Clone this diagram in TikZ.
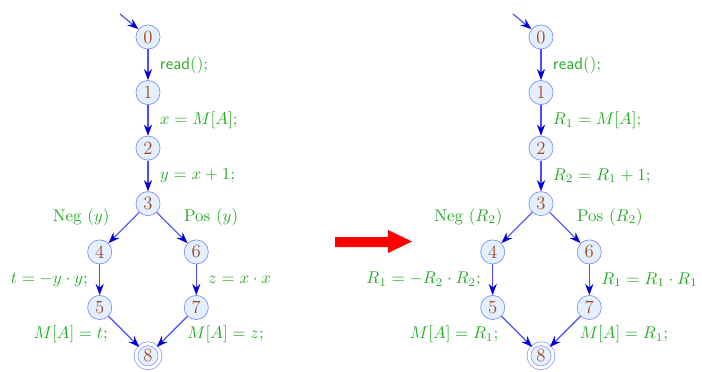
\documentclass[tikz,border=0pt]{standalone}
\usepackage{tikz}
\usetikzlibrary{arrows.meta}
\definecolor{labgreen}{RGB}{40,170,40}
\definecolor{numbrown}{RGB}{170,70,30}
\definecolor{nodefill}{RGB}{226,240,255}
\definecolor{nodeline}{RGB}{130,140,245}

\begin{document}
\begin{tikzpicture}[
    x=0.0207cm, y=-0.0207cm,
    node distance=1.15cm,
    state/.style={circle, draw=nodeline, fill=nodefill, text=numbrown, font=\fontsize{11}{13}\selectfont, minimum size=0.5cm, inner sep=0pt},
    final/.style={state, double, double distance=1.8pt},
    edge/.style={draw=blue!70, line width=0.7pt, -{Stealth[length=2.3mm, width=1.7mm, blue!85!black]}},
    lbl/.style={text=labgreen, inner sep=1pt}
  ]
  \useasboundingbox (0,0) rectangle (702,371);
  % left program
  \coordinate (ls) at (120,14);
  \node[state] (l0) at (148,37) {0};
  \node[state, below of=l0] (l1) {1};
  \node[state, below of=l1] (l2) {2};
  \node[state, below of=l2] (l3) {3};
  \node[state, below of=l3, xshift=-1cm, yshift=0.15cm] (l4) {4};
  \node[state, below of=l3, xshift=1cm, yshift=0.15cm] (l6) {6};
  \node[state, below of=l4] (l5) {5};
  \node[state, below of=l6] (l7) {7};
  \node[final, below of=l5, xshift=1cm, yshift=0.15cm] (l8) {8};
  \draw[edge] (ls) -- (l0);
  \draw[edge] (l0) -- node[lbl, right=2mm] {$\textsf{read}();$} (l1);
  \draw[edge] (l1) -- node[lbl, right=2mm] {$x = M[A];$} (l2);
  \draw[edge] (l2) -- node[lbl, right=2mm] {$y = x+1;$} (l3);
  \draw[edge] (l3) -- node[lbl, anchor=south east, xshift=-2.5mm] {Neg $(y)$} (l4);
  \draw[edge] (l3) -- node[lbl, anchor=south west, xshift=2mm] {Pos $(y)$} (l6);
  \draw[edge] (l4) -- node[lbl, left=2mm] {$t = -y\cdot y;$} (l5);
  \draw[edge] (l6) -- node[lbl, right=2mm] {$z = x\cdot x$} (l7);
  \draw[edge] (l5) -- node[lbl, pos=0.6, left=3.5mm] {$M[A] = t;$} (l8);
  \draw[edge] (l7) -- node[lbl, pos=0.6, right=3.3mm] {$M[A] = z;$} (l8);

  % transformation
  \fill[red] (335,237) -- (388,237) -- (388,230) -- (412,241.5) -- (388,253) -- (388,247) -- (335,247) -- cycle;

  % right program
  \coordinate (rs) at (513,14);
  \node[state] (r0) at (541,37) {0};
  \node[state, below of=r0] (r1) {1};
  \node[state, below of=r1] (r2) {2};
  \node[state, below of=r2] (r3) {3};
  \node[state, below of=r3, xshift=-1cm, yshift=0.15cm] (r4) {4};
  \node[state, below of=r3, xshift=1cm, yshift=0.15cm] (r6) {6};
  \node[state, below of=r4] (r5) {5};
  \node[state, below of=r6] (r7) {7};
  \node[final, below of=r5, xshift=1cm, yshift=0.15cm] (r8) {8};
  \draw[edge] (rs) -- (r0);
  \draw[edge] (r0) -- node[lbl, right=2mm] {$\textsf{read}();$} (r1);
  \draw[edge] (r1) -- node[lbl, right=2mm] {$R_1 = M[A];$} (r2);
  \draw[edge] (r2) -- node[lbl, right=2mm] {$R_2 = R_1+1;$} (r3);
  \draw[edge] (r3) -- node[lbl, anchor=south east, xshift=-2.5mm] {Neg $(R_2)$} (r4);
  \draw[edge] (r3) -- node[lbl, anchor=south west, xshift=2mm] {Pos $(R_2)$} (r6);
  \draw[edge] (r4) -- node[lbl, left=2mm] {$R_1 = -R_2\cdot R_2;$} (r5);
  \draw[edge] (r6) -- node[lbl, right=2mm] {$R_1 = R_1\cdot R_1$} (r7);
  \draw[edge] (r5) -- node[lbl, pos=0.6, left=4mm] {$M[A] = R_1;$} (r8);
  \draw[edge] (r7) -- node[lbl, pos=0.6, right=3.2mm] {$M[A] = R_1;$} (r8);
\end{tikzpicture}
\end{document}
